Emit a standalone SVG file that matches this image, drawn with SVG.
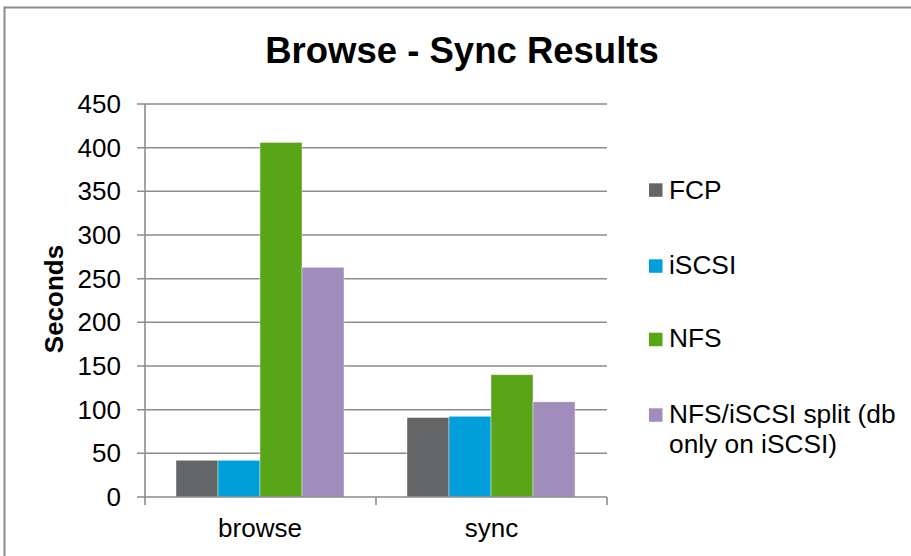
<svg xmlns="http://www.w3.org/2000/svg" width="911" height="556" viewBox="0 0 911 556">
<style>
text{font-family:"Liberation Sans",Arial,sans-serif;fill:#000}
.grid{stroke:#8c8c8c;stroke-width:1.6;fill:none}
.tick{font-size:26px;text-anchor:end}
.cat{font-size:26px;text-anchor:middle}
.leg{font-size:26.3px}
.fcp{fill:#646567}
.iscsi{fill:#009fdb}
.nfs{fill:#58a618}
.split{fill:#a08dbc}
.bar{stroke:#ffffff;stroke-opacity:0.5;stroke-width:0.8}
</style>
<rect x="0" y="0" width="911" height="556" fill="#ffffff"/>
<rect x="4.5" y="7.5" width="920" height="570" fill="none" stroke="#8a8a8a" stroke-width="2"/>
<text id="title" x="462" y="63" font-size="36.5" font-weight="bold" text-anchor="middle">Browse - Sync Results</text>
<g id="gridlines">
<path class="grid" d="M137 104H607M137 147.7H607M137 191.3H607M137 235H607M137 278.7H607M137 322.3H607M137 366H607M137 409.7H607M137 453.3H607"/>
</g>
<g id="y-labels">
<text class="tick" x="121" y="113">450</text>
<text class="tick" x="121" y="156.7">400</text>
<text class="tick" x="121" y="200.3">350</text>
<text class="tick" x="121" y="244">300</text>
<text class="tick" x="121" y="287.7">250</text>
<text class="tick" x="121" y="331.3">200</text>
<text class="tick" x="121" y="375">150</text>
<text class="tick" x="121" y="418.7">100</text>
<text class="tick" x="121" y="462.3">50</text>
<text class="tick" x="121" y="506">0</text>
</g>
<text id="y-title" transform="translate(63 299) rotate(-90)" font-size="26" font-weight="bold" text-anchor="middle">Seconds</text>
<g id="browse">
<rect class="bar fcp" x="176" y="460.3" width="42" height="36.7"/>
<rect class="bar iscsi" x="218" y="460.3" width="42" height="36.7"/>
<rect class="bar nfs" x="260" y="142.4" width="42" height="354.6"/>
<rect class="bar split" x="302" y="267.3" width="42" height="229.7"/>
</g>
<g id="sync">
<rect class="bar fcp" x="407" y="417.5" width="42" height="79.5"/>
<rect class="bar iscsi" x="449" y="416.3" width="42" height="80.7"/>
<rect class="bar nfs" x="491" y="374.7" width="42" height="122.3"/>
<rect class="bar split" x="533" y="401.8" width="42" height="95.2"/>
</g>
<g id="axes">
<path class="grid" d="M145 104V505M137 497H607M376 497V505M607 497V505"/>
</g>
<g id="x-labels">
<text class="cat" x="260" y="536.5">browse</text>
<text class="cat" x="491.5" y="536.5">sync</text>
</g>
<g id="legend">
<rect class="fcp" x="649" y="183.3" width="13.5" height="13.5"/>
<text class="leg" x="669" y="199">FCP</text>
<rect class="iscsi" x="649" y="259.3" width="13.5" height="13.5"/>
<text class="leg" x="669" y="274">iSCSI</text>
<rect class="nfs" x="649" y="332.7" width="13.5" height="13.5"/>
<text class="leg" x="669" y="347.3">NFS</text>
<rect class="split" x="649" y="408.3" width="13.5" height="13.5"/>
<text class="leg" x="669" y="423.3">NFS/iSCSI split (db</text>
<text class="leg" x="669" y="453.3">only on iSCSI)</text>
</g>
</svg>
